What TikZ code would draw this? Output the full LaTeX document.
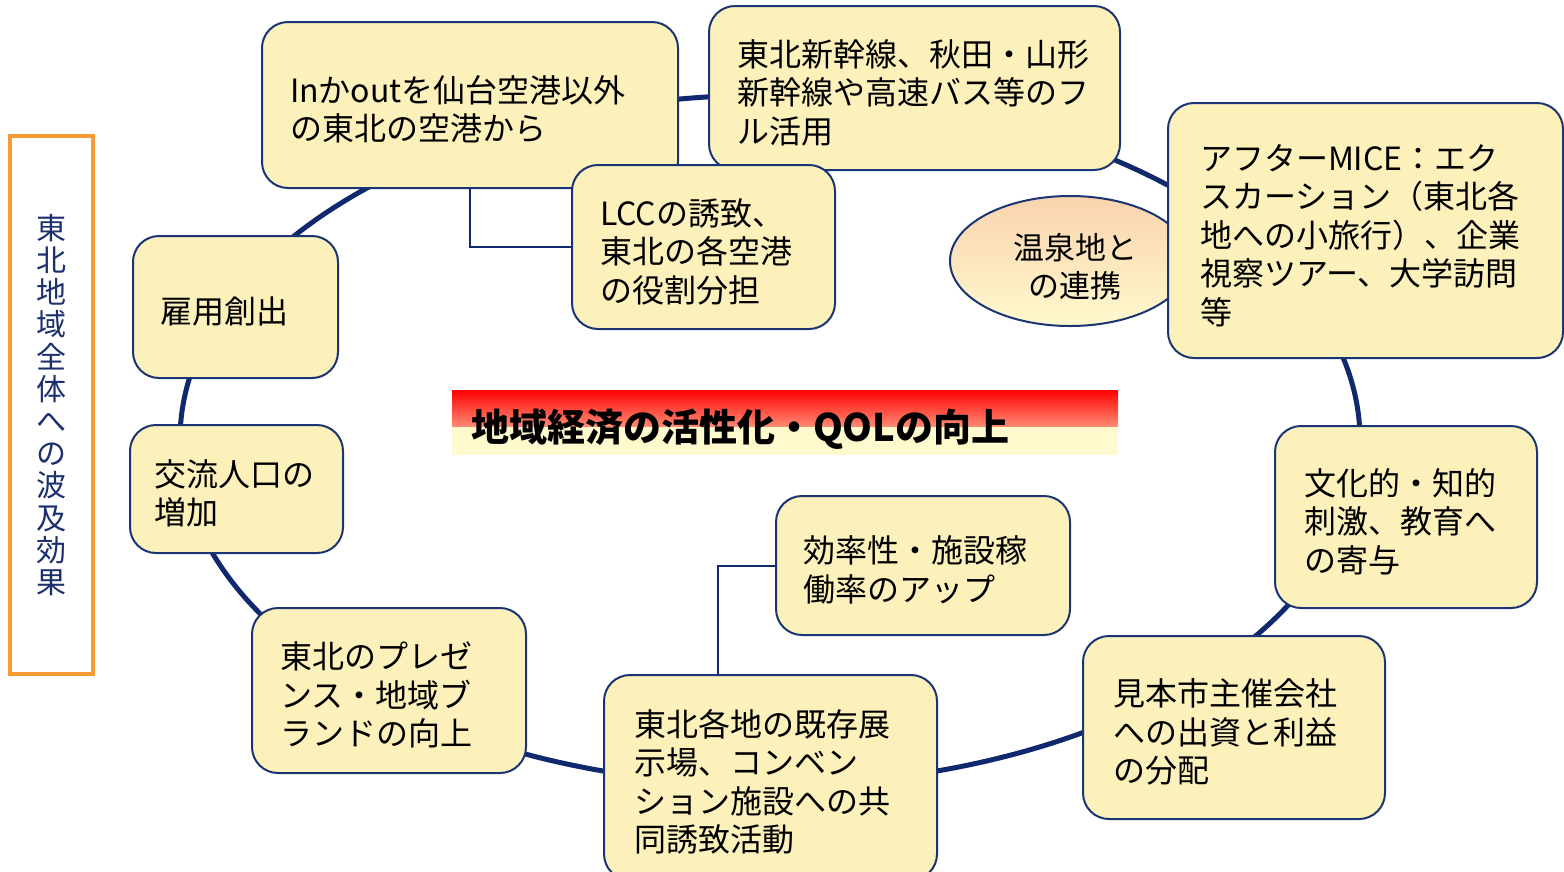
\documentclass[tikz,border=0pt]{standalone}
\usepackage{fontspec}
\setmainfont{Noto Sans CJK JP}
\usetikzlibrary{shapes.geometric}
\definecolor{navy}{HTML}{10296E}
\definecolor{boxfill}{HTML}{FCF0BB}
\definecolor{boxline}{HTML}{1A3474}
\definecolor{orng}{HTML}{F79B34}
\definecolor{vtext}{HTML}{1C2F6E}
\definecolor{peach}{HTML}{F9D3AE}
\definecolor{lightyel}{HTML}{FFF9CE}
\begin{document}
\begin{tikzpicture}[x=1pt,y=-1pt,
  bx/.style={draw=boxline, line width=2pt, fill=boxfill, rounded corners=26pt,
    align=left, inner xsep=28pt, inner ysep=0pt,
    execute at begin node={\rule{0pt}{36pt}},
    font=\fontsize{32}{38.4}\selectfont, text=black},
  ring/.style={draw=navy, line width=5pt},
  link/.style={draw=navy, line width=2pt}]
\useasboundingbox (0,0) rectangle (1564,871);

% big ring
\draw[ring] (770,440) ellipse [x radius=590, y radius=345];

% side label
\node[draw=orng, line width=3.5pt, fill=white, minimum width=83, minimum height=538,
  inner sep=0pt, align=center, font=\fontsize{30}{32.2}\selectfont, text=vtext]
  (side) at (51.5,405) {東\\北\\地\\域\\全\\体\\へ\\の\\波\\及\\効\\果};

% banner
\node[fill=lightyel, minimum width=666, minimum height=65, inner sep=0pt,
  text width=628, inner xsep=19pt, align=left,
  font=\fontsize{38}{40}\selectfont\bfseries,
  path picture={\shade[top color=red, bottom color=lightyel]
    (path picture bounding box.north west) rectangle ([yshift=-36pt]path picture bounding box.north east);}]
  (banner) at (785,422.5) {\rule{0pt}{46pt}地域経済の活性化・QOLの向上};

% onsen ellipse
\node[ellipse, draw=boxline, line width=2pt, top color=peach, bottom color=lightyel,
  minimum width=240, minimum height=130, inner sep=0pt, align=center,
  font=\fontsize{31}{38.3}\selectfont]
  (onsen) at (1070,261) {\rule{0pt}{38pt}\hspace*{10pt}温泉地と\\\hspace*{10pt}の連携};

% boxes
\node[bx, minimum width=416, minimum height=166, text width=360] (inout) at (470,105)
  {Inかoutを仙台空港以外\\の東北の空港から};
\node[bx, minimum width=411, minimum height=164, text width=355] (shin) at (914.5,88)
  {東北新幹線、秋田・山形\\新幹線や高速バス等のフ\\ル活用};
\draw[link] (inout.south) |- (572,247);
\node[bx, minimum width=263, minimum height=164, text width=207] (lcc) at (703.5,247)
  {LCCの誘致、\\東北の各空港\\の役割分担};
\node[bx, inner xsep=32pt, minimum width=395, minimum height=255, text width=331] (mice) at (1365.5,230.5)
  {アフターMICE：エク\\スカーション（東北各\\地への小旅行）、企業\\視察ツアー、大学訪問\\等};
\node[bx, inner xsep=27pt, minimum width=205, minimum height=142, text width=151] (koyou) at (235.5,307)
  {雇用創出};
\node[bx, inner xsep=24pt, minimum width=213, minimum height=128, text width=165] (kouryu) at (236.5,489)
  {交流人口の\\増加};
\node[bx, minimum width=274, minimum height=165, text width=218] (pres) at (389,690.5)
  {東北のプレゼ\\ンス・地域ブ\\ランドの向上};
\node[bx, inner xsep=30pt, minimum width=333, minimum height=205, text width=273] (kizon) at (770.5,777.5)
  {東北各地の既存展\\示場、コンベン\\ション施設への共\\同誘致活動};
\node[bx, inner xsep=27pt, minimum width=294, minimum height=139, text width=240] (kouritsu) at (923,565.5)
  {効率性・施設稼\\働率のアップ};
\draw[link] (kouritsu.west) -| ([xshift=-52.5pt]kizon.north);
\node[bx, inner xsep=30pt, minimum width=302, minimum height=183, text width=242] (mihon) at (1234,727.5)
  {見本市主催会社\\への出資と利益\\の分配};
\node[bx, inner xsep=29pt, minimum width=262, minimum height=182, text width=204] (bunka) at (1406,517)
  {文化的・知的\\刺激、教育へ\\の寄与};
\end{tikzpicture}
\end{document}
